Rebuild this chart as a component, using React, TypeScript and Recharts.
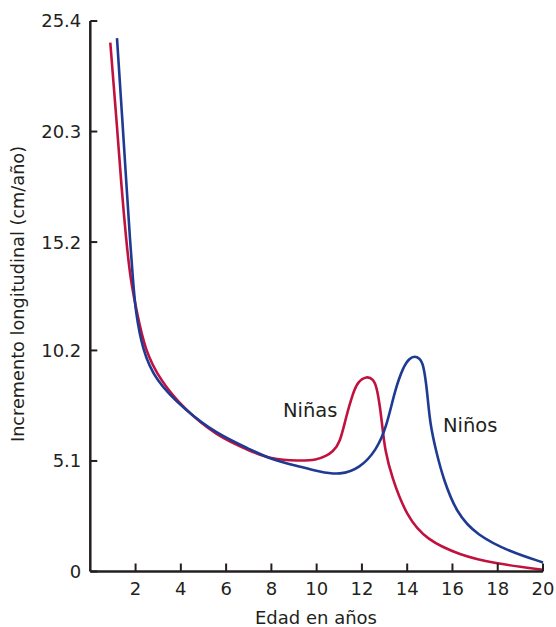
import React from "react";
import { LineChart, Line, XAxis, YAxis } from "recharts";

const girlsAge = [0.883, 1.148, 1.387, 1.586, 1.776, 2.063, 2.416, 3.079, 4.108, 5.583, 7.054, 7.937, 9.24, 10.0, 10.42, 10.71, 11.03, 11.3, 11.6, 11.82, 12.21, 12.5, 12.65, 12.8, 12.92, 13.02, 13.31, 13.98, 14.86, 16.33, 17.8, 20];
const girlsRate = [24.4, 20.99, 17.6, 15.3, 13.45, 11.93, 10.22, 8.84, 7.53, 6.25, 5.57, 5.19, 5.1, 5.15, 5.33, 5.53, 5.92, 7.14, 8.22, 8.76, 9.02, 8.87, 8.53, 7.6, 6.53, 5.61, 4.37, 2.53, 1.45, 0.76, 0.38, 0.08];

const boysAge = [1.179, 1.396, 1.612, 1.754, 1.886, 2.005, 2.314, 2.857, 4.183, 5.583, 7.054, 7.937, 9.26, 10.14, 11.03, 11.91, 12.65, 13.09, 13.46, 13.83, 14.1, 14.34, 14.54, 14.71, 14.88, 15.0, 15.3, 15.59, 16.18, 17.07, 18.54, 20];
const boysRate = [24.61, 21.16, 17.6, 15.3, 13.45, 11.93, 10.22, 8.84, 7.45, 6.35, 5.64, 5.19, 4.84, 4.6, 4.45, 4.76, 5.61, 6.68, 8.38, 9.45, 9.84, 9.94, 9.84, 9.61, 8.38, 6.84, 5.45, 4.3, 2.69, 1.68, 0.91, 0.42];

const xTicks = [2, 4, 6, 8, 10, 12, 14, 16, 18, 20];
const yTicks = [0, 5.1, 10.2, 15.2, 20.3, 25.4];

const girlsData = girlsAge.map((a, i) => ({ age: a, rate: girlsRate[i] }));
const boysData = boysAge.map((a, i) => ({ age: a, rate: boysRate[i] }));

const W = 556;
const H = 627;
const PLOT_LEFT = 90.3;
const PLOT_TOP = 21;
const PLOT_BOTTOM = 571.5;
const PLOT_RIGHT = 543;
const FONT = "'DejaVu Sans', sans-serif";
const INK = "#231f20";
const RED = "#c1123f";
const BLUE = "#1f3a93";

const YTick = (props: any) => {
  const { y, payload } = props;
  return (
    <g>
      <line x1={PLOT_LEFT} x2={PLOT_LEFT + 7} y1={y} y2={y} stroke={INK} strokeWidth={2} />
      <text x={PLOT_LEFT - 9} y={y} dy="0.36em" textAnchor="end" fontSize={18} fontFamily={FONT} fill={INK}>
        {payload.value}
      </text>
    </g>
  );
};

const XTick = (props: any) => {
  const { x, payload } = props;
  return (
    <g>
      <line x1={x} x2={x} y1={PLOT_BOTTOM} y2={PLOT_BOTTOM - 8} stroke={INK} strokeWidth={2} />
      <text x={x} y={595} textAnchor="middle" fontSize={18} fontFamily={FONT} fill={INK}>
        {payload.value}
      </text>
    </g>
  );
};

export default function App() {
  return (
    <div style={{ position: "absolute", left: 0, top: 0, width: W, height: H, background: "#fff" }}>
      <LineChart
        width={W}
        height={H}
        margin={{ top: PLOT_TOP, right: W - PLOT_RIGHT, bottom: 0, left: 0 }}
      >
        <XAxis
          type="number"
          dataKey="age"
          domain={[0, 20]}
          ticks={xTicks}
          interval={0}
          height={H - PLOT_BOTTOM}
          axisLine={{ stroke: INK, strokeWidth: 2.5 }}
          tickLine={false}
          tick={<XTick />}
          allowDuplicatedCategory={false}
        />
        <YAxis
          type="number"
          domain={[0, 25.4]}
          ticks={yTicks}
          interval={0}
          width={PLOT_LEFT}
          axisLine={{ stroke: INK, strokeWidth: 2.5 }}
          tickLine={false}
          tick={<YTick />}
        />
        <Line
          data={girlsData}
          dataKey="rate"
          type="basis"
          stroke={RED}
          strokeWidth={2.6}
          dot={false}
          isAnimationActive={false}
        />
        <Line
          data={boysData}
          dataKey="rate"
          type="basis"
          stroke={BLUE}
          strokeWidth={2.6}
          dot={false}
          isAnimationActive={false}
        />
      </LineChart>
      <svg width={W} height={H} style={{ position: "absolute", left: 0, top: 0, pointerEvents: "none" }}>
        <text x={316} y={624} textAnchor="middle" fontSize={18} fontFamily={FONT} fill={INK}>
          Edad en años
        </text>
        <text
          x={23.5}
          y={294}
          transform="rotate(-90 23.5 294)"
          textAnchor="middle"
          fontSize={17.7}
          fontFamily={FONT}
          fill={INK}
        >
          Incremento longitudinal (cm/año)
        </text>
        <text x={283} y={416.5} fontSize={19.5} fontFamily={FONT} fill={INK}>
          Niñas
        </text>
        <text x={443} y={431.5} fontSize={19.5} fontFamily={FONT} fill={INK}>
          Niños
        </text>
      </svg>
    </div>
  );
}
